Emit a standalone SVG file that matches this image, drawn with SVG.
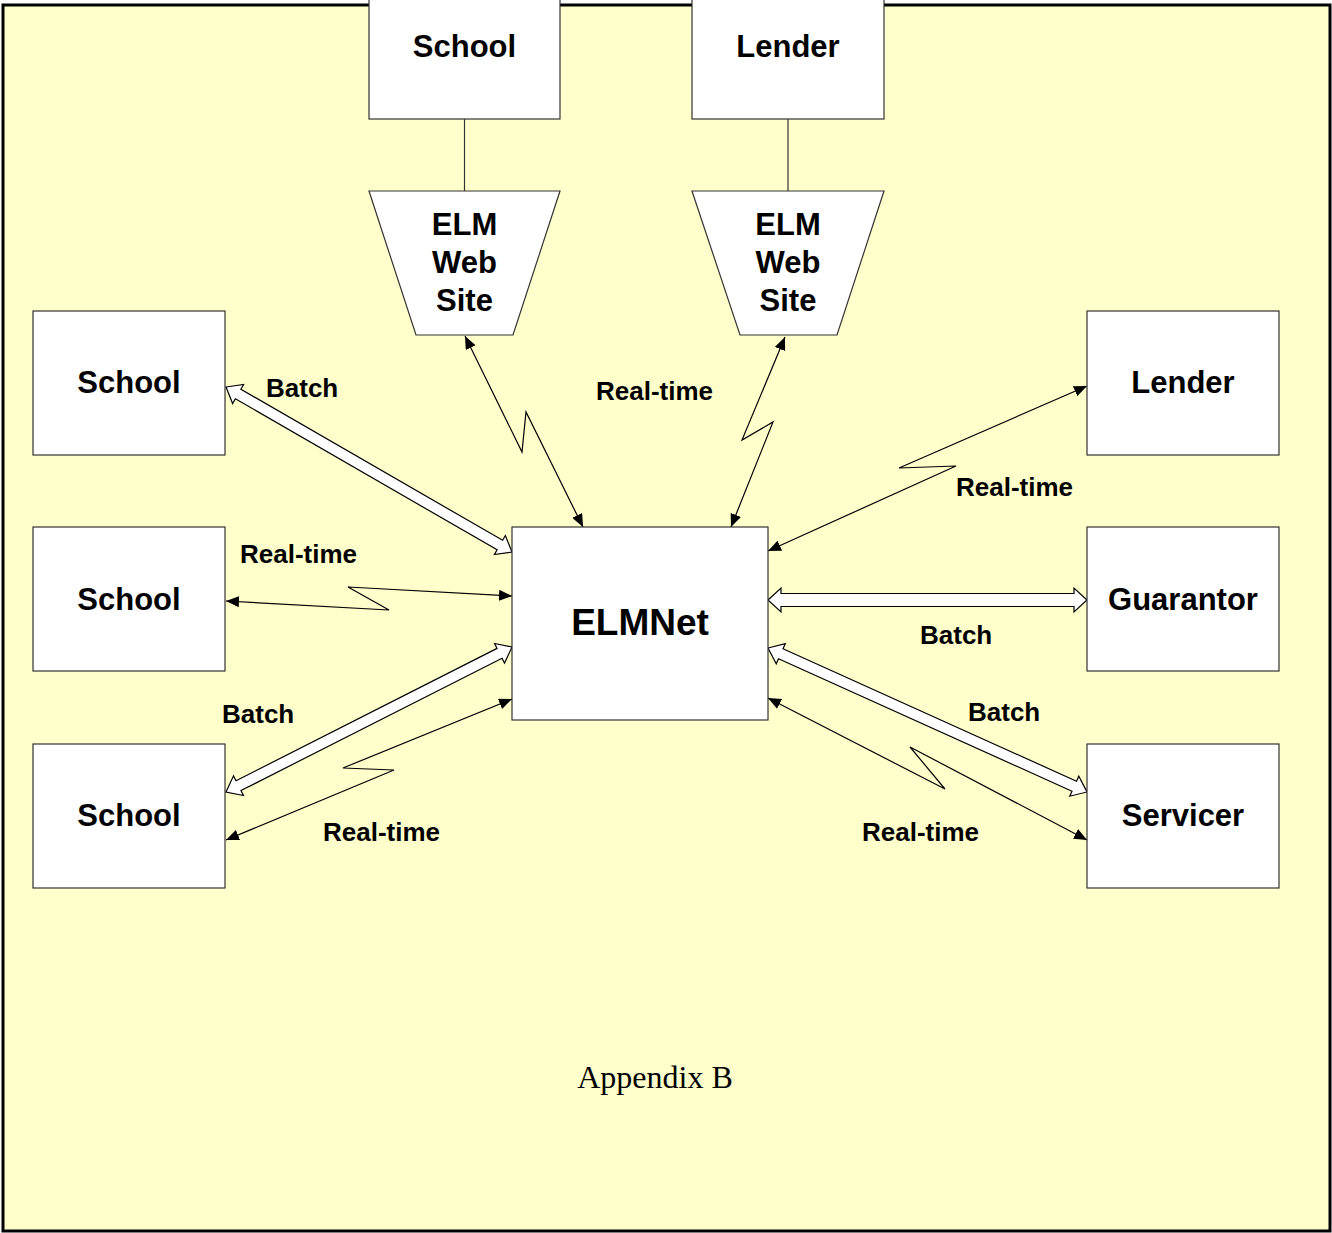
<svg xmlns="http://www.w3.org/2000/svg" width="1332" height="1233" viewBox="0 0 1332 1233">
<style>
.bg{fill:#FFFFCC;stroke:#000;stroke-width:3}
.node{fill:#fff;stroke:#333;stroke-width:1.2}
.nt{font-family:"Liberation Sans",Arial,sans-serif;font-weight:bold;font-size:31px;text-anchor:middle;fill:#000}
.lbl{font-family:"Liberation Sans",Arial,sans-serif;font-weight:bold;font-size:26px;fill:#000}
.rt{fill:none;stroke:#000;stroke-width:1.2;marker-start:url(#ah);marker-end:url(#ah)}
.bt{fill:#fff;stroke:#000;stroke-width:1.2;stroke-linejoin:miter}
.ln{stroke:#333;stroke-width:1.2}
</style>
<defs>
<marker id="ah" viewBox="0 0 13 11" refX="13" refY="5.5" markerWidth="13" markerHeight="11" markerUnits="userSpaceOnUse" orient="auto-start-reverse">
<path d="M0,0 L13,5.5 L0,11 z" fill="#000"/>
</marker>
</defs>
<rect class="bg" x="3" y="5" width="1327" height="1226"/>

<g id="connectors">
<line class="ln" x1="464.5" y1="119" x2="464.5" y2="191"/>
<line class="ln" x1="788" y1="119" x2="788" y2="191"/>
<polyline class="rt" points="465,336 522,452 526,412 583,527"/>
<polyline class="rt" points="785,337 742,440 773,422 731,527"/>
<polyline class="rt" points="768,551 956,466 899,468 1087,386"/>
<polyline class="rt" points="226,601 389,610 348,587 512,596"/>
<polyline class="rt" points="512,699 343,768 394,770 226,840"/>
<polyline class="rt" points="768,698 945,789 910,747 1087,840"/>
<path class="bt" transform="translate(226,387) rotate(29.99)" d="M0,0 L14,-11 L14,-5.5 L316.2,-5.5 L316.2,-11 L330.2,0 L316.2,11 L316.2,5.5 L14,5.5 L14,11 Z"/>
<path class="bt" transform="translate(226,792) rotate(-26.89)" d="M0,0 L14,-11 L14,-5.5 L306.7,-5.5 L306.7,-11 L320.7,0 L306.7,11 L306.7,5.5 L14,5.5 L14,11 Z"/>
<path class="bt" transform="translate(768,648) rotate(24.29)" d="M0,0 L14,-11 L14,-5.5 L336,-5.5 L336,-11 L350,0 L336,11 L336,5.5 L14,5.5 L14,11 Z"/>
<path class="bt" transform="translate(768,600)" d="M0,0 L13,-12 L13,-6.5 L306,-6.5 L306,-12 L319,0 L306,12 L306,6.5 L13,6.5 L13,12 Z"/>
<text class="lbl" x="266" y="397">Batch</text>
<text class="lbl" x="596" y="400">Real-time</text>
<text class="lbl" x="956" y="496">Real-time</text>
<text class="lbl" x="240" y="563">Real-time</text>
<text class="lbl" x="920" y="644">Batch</text>
<text class="lbl" x="222" y="723">Batch</text>
<text class="lbl" x="968" y="721">Batch</text>
<text class="lbl" x="323" y="841">Real-time</text>
<text class="lbl" x="862" y="841">Real-time</text>
</g>

<g id="school-top"><rect class="node" x="369" y="-2" width="191" height="121"/><text class="nt" x="464.5" y="57">School</text></g>
<g id="lender-top"><rect class="node" x="692" y="-2" width="192" height="121"/><text class="nt" x="788" y="57">Lender</text></g>
<g id="web-school"><polygon class="node" points="369,191 560,191 513,335 416,335"/><text class="nt" x="464.5" y="235">ELM</text><text class="nt" x="464.5" y="273">Web</text><text class="nt" x="464.5" y="311">Site</text></g>
<g id="web-lender"><polygon class="node" points="692,191 884,191 837,335 740,335"/><text class="nt" x="788" y="235">ELM</text><text class="nt" x="788" y="273">Web</text><text class="nt" x="788" y="311">Site</text></g>
<g id="school1"><rect class="node" x="33" y="311" width="192" height="144"/><text class="nt" x="129" y="393">School</text></g>
<g id="school2"><rect class="node" x="33" y="527" width="192" height="144"/><text class="nt" x="129" y="610">School</text></g>
<g id="school3"><rect class="node" x="33" y="744" width="192" height="144"/><text class="nt" x="129" y="826">School</text></g>
<g id="lender"><rect class="node" x="1087" y="311" width="192" height="144"/><text class="nt" x="1183" y="393">Lender</text></g>
<g id="guarantor"><rect class="node" x="1087" y="527" width="192" height="144"/><text class="nt" x="1183" y="610">Guarantor</text></g>
<g id="servicer"><rect class="node" x="1087" y="744" width="192" height="144"/><text class="nt" x="1183" y="826">Servicer</text></g>
<g id="elmnet"><rect class="node" x="512" y="527" width="256" height="193"/><text class="nt" x="640" y="635" style="font-size:37px">ELMNet</text></g>

<text x="655" y="1088" style="font-family:'Liberation Serif','Times New Roman',serif;font-size:32px;text-anchor:middle">Appendix B</text>
</svg>
